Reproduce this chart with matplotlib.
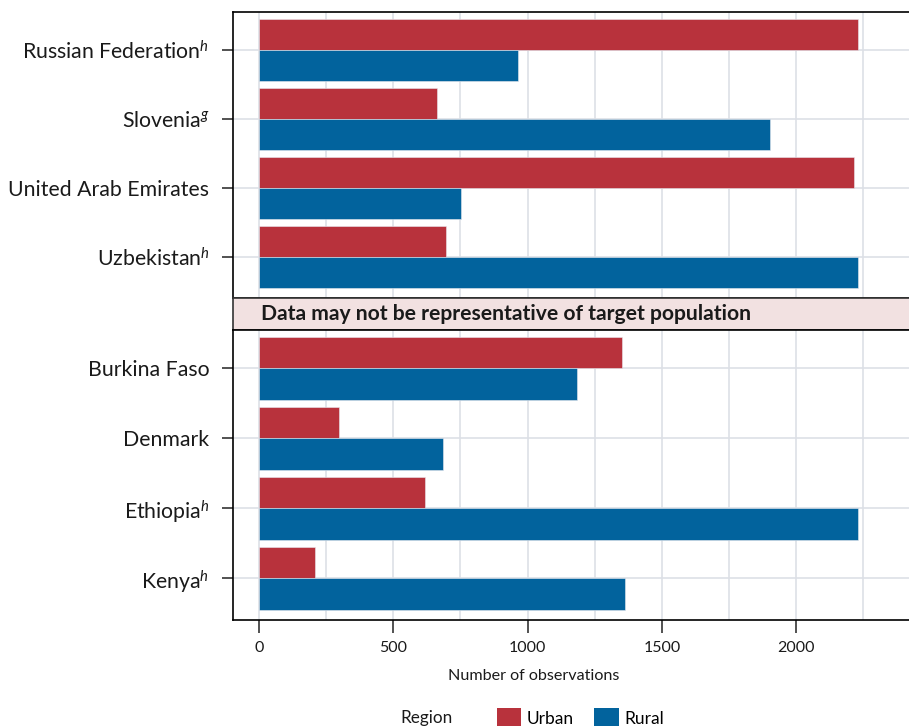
""" Urban / rural observation counts by country """

import matplotlib.pyplot as plt
from matplotlib.patches import Patch

plt.rcParams['font.family'] = ['Lato', 'DejaVu Sans']
plt.rcParams['mathtext.fontset'] = 'custom'
plt.rcParams['mathtext.rm'] = 'Lato'
plt.rcParams['mathtext.it'] = 'Lato:italic'

# Data
top_countries = ["Russian Federation$^{\\mathit{h}}$", "Slovenia$^{\\mathit{g}}$",
                 "United Arab Emirates", "Uzbekistan$^{\\mathit{h}}$"]
top_urban = [2230, 662, 2216, 695]
top_rural = [963, 1903, 751, 2230]

bottom_countries = ["Burkina Faso", "Denmark", "Ethiopia$^{\\mathit{h}}$", "Kenya$^{\\mathit{h}}$"]
bottom_urban = [1353, 297, 617, 208]
bottom_rural = [1182, 684, 2230, 1361]

strip_label = "Data may not be representative of target population"
x_ticks = [0, 500, 1000, 1500, 2000]

URBAN = "#B8323C"
RURAL = "#02639D"
GRID = "#DDE0E6"
STRIP = "#F2E1E1"

W, H = 909, 726


def fx(px):
    return px / W


def fy(px):
    return 1 - px / H


def draw_panel(ax, countries, urban, rural, show_x):
    n = len(countries)
    pos = [n - 1 - i for i in range(n)]
    bh = 0.45
    ax.barh([p + bh / 2 for p in pos], urban, height=bh, color=URBAN,
            edgecolor="#e8e8ee", linewidth=0.4, zorder=2)
    ax.barh([p - bh / 2 for p in pos], rural, height=bh, color=RURAL,
            edgecolor="#e8e8ee", linewidth=0.4, zorder=2)
    ax.set_xlim(-97, 2420)
    ax.set_ylim(-0.6, n - 1 + 0.55)
    ax.set_yticks(pos)
    ax.set_yticklabels(countries, fontsize=15.3, color="#1a1a1a")
    ax.set_xticks(x_ticks)
    ax.set_xticks([250, 750, 1250, 1750, 2250], minor=True)
    ax.grid(True, which="both", color=GRID, linewidth=1.2, zorder=0)
    ax.set_axisbelow(True)
    ax.tick_params(axis="y", length=8, width=1.2, color="#333333", pad=9)
    ax.tick_params(axis="x", which="minor", length=0)
    if show_x:
        ax.tick_params(axis="x", length=9, width=1.2, color="#333333", pad=6,
                       labelsize=11.5, labelcolor="#1a1a1a")
    else:
        ax.tick_params(axis="x", length=0, labelbottom=False)
    for s in ax.spines.values():
        s.set_color("black")
        s.set_linewidth(1.2)
    ax.spines["right"].set_visible(False)


fig = plt.figure(figsize=(W / 100, H / 100), dpi=100)

ax_top = fig.add_axes([fx(233), fy(298), 1 - fx(233), (298 - 12) / H])
draw_panel(ax_top, top_countries, top_urban, top_rural, False)

ax_strip = fig.add_axes([fx(233), fy(330), 1 - fx(233), (330 - 298) / H])
ax_strip.set_facecolor(STRIP)
ax_strip.set_xticks([])
ax_strip.set_yticks([])
for s in ax_strip.spines.values():
    s.set_color("#333333")
    s.set_linewidth(1.2)
ax_strip.spines["right"].set_visible(False)
ax_strip.text(fx(261 - 233) / (1 - fx(233)), 0.5, strip_label, transform=ax_strip.transAxes,
              ha="left", va="center", fontsize=15.2, fontweight="bold", color="#1a1a1a")

ax_bot = fig.add_axes([fx(233), fy(620), 1 - fx(233), (620 - 330) / H])
draw_panel(ax_bot, bottom_countries, bottom_urban, bottom_rural, True)
fig.text(fx(534), fy(676), "Number of observations", fontsize=11.6, color="#1a1a1a",
         ha="center", va="center")

fig.text(fx(400), fy(718), "Region", fontsize=12.3, ha="left", va="center", color="#1a1a1a")
handles = [Patch(facecolor=URBAN, label="Urban"), Patch(facecolor=RURAL, label="Rural")]
fig.legend(handles=handles, loc="center left", bbox_to_anchor=(fx(497), fy(718)),
           ncol=2, frameon=False, fontsize=12.5, handlelength=1.4, handleheight=1.4,
           handletextpad=0.3, columnspacing=1.2, borderpad=0, borderaxespad=0)

fig.savefig("out.png", dpi=100)
